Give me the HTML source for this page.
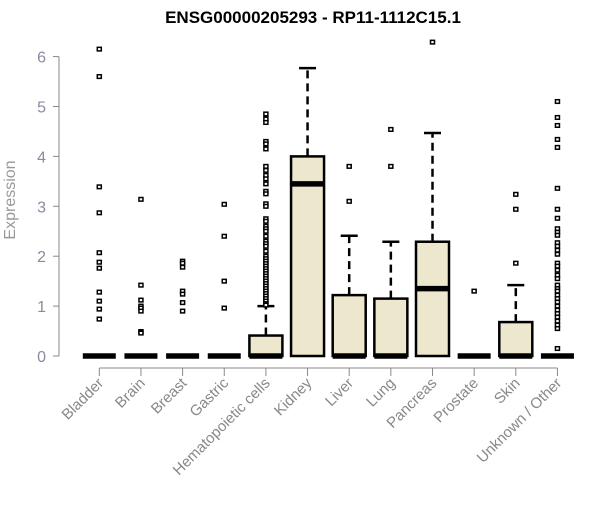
<!DOCTYPE html>
<html><head><meta charset="utf-8"><style>
body{margin:0;background:#fff}
svg text{font-family:"Liberation Sans",Arial,sans-serif}
</style></head><body>
<svg id="chart" width="600" height="500" xmlns="http://www.w3.org/2000/svg">
<text x="313" y="23" text-anchor="middle" font-size="17" font-weight="bold">ENSG00000205293 - RP11-1112C15.1</text>
<text transform="translate(15,200) rotate(-90)" text-anchor="middle" font-size="16" fill="#999">Expression</text>
<g id="g"></g>
</svg>
<script>
const categories=["Bladder","Brain","Breast","Gastric","Hematopoietic cells","Kidney","Liver","Lung","Pancreas","Prostate","Skin","Unknown / Other"];
const q1=[0,0,0,0,0,0,0,0,0,0,0,0];
const medians=[0,0,0,0,0,3.45,0,0,1.35,0,0,0];
const q3=[0,0,0,0,0.41,4.0,1.22,1.15,2.29,0,0.68,0];
const whiskerHigh=[0,0,0,0,1.0,5.77,2.41,2.29,4.47,0,1.42,0];
const outliers=[
[6.15,5.6,3.39,2.87,2.07,1.88,1.76,1.28,1.1,0.94,0.74],
[3.14,1.42,1.12,1.0,0.96,0.9,0.49,0.46],
[1.9,1.86,1.78,1.3,1.24,1.07,0.9],
[3.04,2.4,1.5,0.96],
[4.85,4.75,4.68,4.3,4.25,4.15,3.8,3.72,3.62,3.55,3.45,3.3,3.25,3.05,3.0,2.75,2.7,2.6,2.55,2.5,2.4,2.3,2.25,2.2,2.1,2.0,1.95,1.9,1.85,1.8,1.75,1.7,1.65,1.6,1.55,1.5,1.45,1.4,1.35,1.3,1.25,1.2,1.15,1.1,1.05,1.02],
[],
[3.8,3.1],
[4.54,3.8],
[6.29],
[1.3],
[3.24,2.94,1.86],
[5.1,4.78,4.62,4.34,4.18,3.36,2.94,2.76,2.55,2.48,2.42,2.27,2.2,2.12,2.04,1.86,1.8,1.72,1.62,1.55,1.42,1.35,1.3,1.22,1.15,1.08,1.0,0.92,0.85,0.78,0.7,0.62,0.55,0.15]
];
const yTicks=[0,1,2,3,4,5,6];
const NS="http://www.w3.org/2000/svg";
const g=document.getElementById('g');
const yS=v=>356-v*49.9;
const xS=i=>99.3+i*41.65;
function mk(t,a){const e=document.createElementNS(NS,t);for(const k in a)e.setAttribute(k,a[k]);g.appendChild(e);return e;}
let ax=mk('line',{x1:59,x2:59,y1:yS(0),y2:yS(6),stroke:'#888'});


yTicks.forEach(v=>{
 const t=mk('line',{x1:53,x2:59,y1:yS(v),y2:yS(v),stroke:'#888'});
 
 
 const l=mk('text',{x:46,y:yS(v)+6,'text-anchor':'end','font-size':16,fill:'#8a8aa0'});
 l.textContent=v;
 
 
});
let xa=mk('line',{x1:xS(0),x2:xS(11),y1:368,y2:368,stroke:'#888'});


const bw=33;
categories.forEach((c,i)=>{
 const x=xS(i);
 const t=mk('line',{x1:x,x2:x,y1:368,y2:376,stroke:'#888'});
 
 
 const l=mk('text',{transform:`translate(${x+5},384) rotate(-45)`,'text-anchor':'end','font-size':15,fill:'#888'});
 l.textContent=c;
 
 
 if(whiskerHigh[i]>q3[i]){
  const w=mk('line',{x1:x,x2:x,y1:yS(q3[i]),y2:yS(whiskerHigh[i]),stroke:'#000','stroke-width':2.5,'stroke-dasharray':'8,5'});
  
  
  const cap=mk('line',{x1:x-8.5,x2:x+8.5,y1:yS(whiskerHigh[i]),y2:yS(whiskerHigh[i]),stroke:'#000','stroke-width':2.5});
  
  
 }
 if(q3[i]>q1[i]){
  const b=mk('rect',{x:x-bw/2,y:yS(q3[i]),width:bw,height:yS(q1[i])-yS(q3[i]),fill:'#ede7cd',stroke:'#000','stroke-width':2.5});
  
  
 }
 const m=mk('line',{x1:x-bw/2,x2:x+bw/2,y1:yS(medians[i]),y2:yS(medians[i]),stroke:'#000','stroke-width':5.5});
 
 
 outliers[i].forEach(v=>{
  const p=mk('rect',{x:x-2,y:yS(v)-1.8,width:4,height:3.6,fill:'#fff',stroke:'#000','stroke-width':1.5});
  
  
 });
});
</script>
</body></html>
